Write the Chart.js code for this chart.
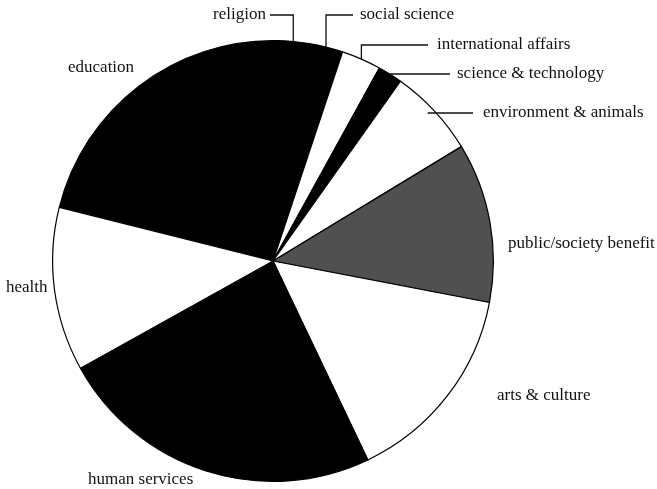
<!DOCTYPE html>
<html>
<head>
<meta charset="utf-8">
<script src="https://cdn.jsdelivr.net/npm/chart.js@4"></script>
<style>
  html, body { margin: 0; padding: 0; background: #fff; }
  canvas { display: block; }
</style>
</head>
<body>
<canvas id="subjectPie" width="657" height="489"></canvas>
<script>
// slices, clockwise from the education / health boundary
const categories = ["education", "religion", "social science", "international affairs",
  "science & technology", "environment & animals", "public/society benefit",
  "arts & culture", "human services", "health"];
const shares = [21.4, 2.3, 2.5, 2.9, 1.8, 6.5, 11.7, 14.9, 24.0, 12.0];
const fills = ["#000", "#000", "#000", "#fff", "#000", "#fff", "#505050", "#fff", "#000", "#fff"];

// where each label sits (left x, middle y) and how its leader runs
const labelPlaces = [
  { x: 68, y: 68 },
  { x: 213, y: 15, leader: "elbow", end: 270 },
  { x: 360, y: 15, leader: "elbow", end: 353 },
  { x: 437, y: 45, leader: "elbow", end: 428 },
  { x: 457, y: 74, leader: "flat", end: 450 },
  { x: 483, y: 113, leader: "flat", end: 473, inset: 9 },
  { x: 508, y: 244 },
  { x: 497, y: 396 },
  { x: 88, y: 480 },
  { x: 6, y: 288 }
];

const labelPlugin = {
  id: "sliceLabels",
  afterDraw(chart) {
    const ctx = chart.ctx;
    const arcs = chart.getDatasetMeta(0).data;
    ctx.save();
    ctx.font = "17px 'Liberation Serif', 'Times New Roman', serif";
    ctx.fillStyle = "#111";
    ctx.textBaseline = "middle";
    ctx.strokeStyle = "#111";
    ctx.lineWidth = 1.3;
    categories.forEach((name, i) => {
      const p = labelPlaces[i];
      ctx.fillText(name, p.x, p.y);
      if (!p.leader) return;
      const a = arcs[i];
      const mid = (a.startAngle + a.endAngle) / 2;
      const r = a.outerRadius - (p.inset || 0);
      const px = a.x + Math.cos(mid) * r;
      const py = a.y + Math.sin(mid) * r;
      ctx.beginPath();
      if (p.leader === "elbow") {
        ctx.moveTo(px, py);
        ctx.lineTo(px, p.y);
        ctx.lineTo(p.end, p.y);
      } else {
        ctx.moveTo(px, p.y);
        ctx.lineTo(p.end, p.y);
      }
      ctx.stroke();
    });
    ctx.restore();
  }
};

const subjectPie = new Chart(document.getElementById("subjectPie"), {
  type: "pie",
  data: {
    labels: categories,
    datasets: [{
      data: shares,
      backgroundColor: fills,
      borderColor: "#000",
      borderWidth: 1.2
    }]
  },
  options: {
    responsive: false,
    animation: false,
    rotation: -75.9,
    layout: { padding: { left: 50, right: 161, top: 40, bottom: 7 } },
    plugins: {
      legend: { display: false },
      tooltip: { enabled: false }
    }
  },
  plugins: [labelPlugin]
});
</script>
</body>
</html>
